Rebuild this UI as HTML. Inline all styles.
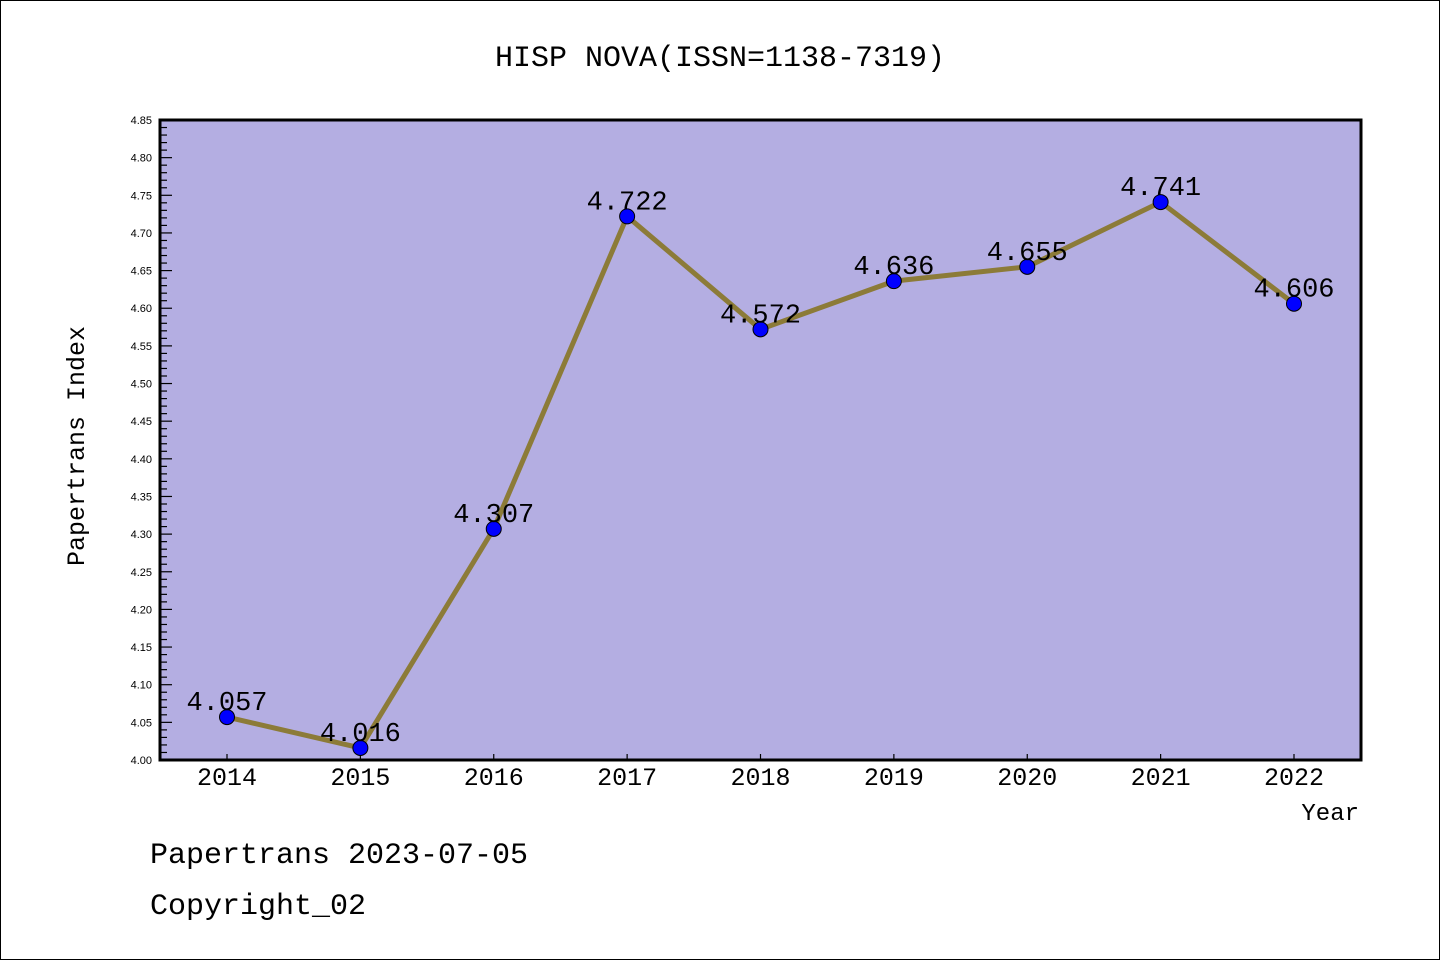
<!DOCTYPE html>
<html><head><meta charset="utf-8"><style>
body{margin:0;background:#fff}
svg{display:block;font-family:"Liberation Mono","Noto Sans CJK SC",monospace}
</style></head><body>
<svg id="chart" width="1440" height="960" viewBox="0 0 1440 960">
<rect x="0.5" y="0.5" width="1439" height="959" fill="#fff" stroke="#000"/>
<text x="720" y="66" text-anchor="middle" font-size="30">HISP NOVA(ISSN=1138-7319)</text>
<rect x="160" y="120" width="1201" height="640" fill="#b4aee2"/>
<g id="yaxis"></g>
<g id="xaxis"></g>
<g id="series"></g>
<rect x="160" y="120" width="1201" height="640" fill="none" stroke="#000" stroke-width="3"/>
<text transform="translate(84,446) rotate(-90)" text-anchor="middle" font-size="25">Papertrans Index</text>
<text x="1359" y="820" text-anchor="end" font-size="24">Year</text>
<text x="150" y="863" font-size="30">Papertrans 2023-07-05</text>
<text x="150" y="914" font-size="30">Copyright_02</text>
</svg>
<script>
const years=["2014","2015","2016","2017","2018","2019","2020","2021","2022"];
const values=[4.057,4.016,4.307,4.722,4.572,4.636,4.655,4.741,4.606];
const valueLabels=["4.057","4.016","4.307","4.722","4.572","4.636","4.655","4.741","4.606"];
const yTickLabels=["4.00","4.05","4.10","4.15","4.20","4.25","4.30","4.35","4.40","4.45","4.50","4.55","4.60","4.65","4.70","4.75","4.80","4.85"];
const NS="http://www.w3.org/2000/svg";
const yMin=4.0,yMax=4.85,plotTop=120,plotBot=760;
function yS(v){return plotBot-(v-yMin)/(yMax-yMin)*(plotBot-plotTop);}
function xS(i){return 227+i*(1294-227)/(years.length-1);}
function mk(tag,attrs,parent){const e=document.createElementNS(NS,tag);for(const k in attrs)e.setAttribute(k,attrs[k]);parent.appendChild(e);return e;}
(function(){
const ya=document.getElementById('yaxis'),xa=document.getElementById('xaxis'),se=document.getElementById('series');
for(let k=0;k<=85;k++){const v=yMin+k*0.01;const major=k%5===0;
 const t=mk('line',{x1:160,x2:160+(major?12:7),y1:yS(v),y2:yS(v),stroke:'#000','stroke-width':1.2},ya);
 
 }
yTickLabels.forEach(s=>{const t=mk('text',{x:152,y:yS(parseFloat(s))+4,'text-anchor':'end','font-size':11,'font-family':'Liberation Sans, sans-serif'},ya);t.textContent=s;
 
 });
years.forEach((s,i)=>{const l=mk('line',{x1:xS(i),x2:xS(i),y1:760,y2:754,stroke:'#000','stroke-width':1.2},xa);
 
 
 const t=mk('text',{x:xS(i),y:785,'text-anchor':'middle','font-size':25},xa);t.textContent=s;
 
 });
const pl=mk('polyline',{points:values.map((v,i)=>xS(i)+','+yS(v)).join(' '),fill:'none',stroke:'#8c7b38','stroke-width':5,'stroke-linejoin':'round'},se);


values.forEach((v,i)=>{const c=mk('circle',{cx:xS(i),cy:yS(v),r:7.5,fill:'#0000ff',stroke:'#000','stroke-width':1},se);
 
 
 const t=mk('text',{x:xS(i),y:yS(v)-7,'text-anchor':'middle','font-size':27},se);t.textContent=valueLabels[i];
 
 });
})();
</script>
</body></html>
